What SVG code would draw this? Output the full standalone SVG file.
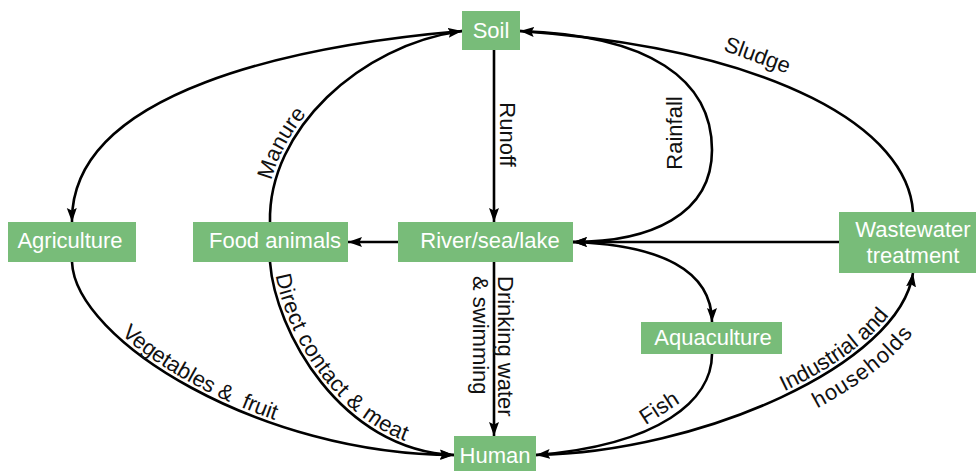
<svg xmlns="http://www.w3.org/2000/svg" xmlns:xlink="http://www.w3.org/1999/xlink" width="977" height="472" viewBox="0 0 977 472">
<style>
.box{fill:#78bc79}
.bt{font-family:"Liberation Sans",Arial,sans-serif;font-size:22px;fill:#fff;text-anchor:middle}
.lb{font-family:"Liberation Sans",Arial,sans-serif;font-size:22px;fill:#111}
.c{fill:none;stroke:#000;stroke-width:2.6;marker-end:url(#ah)}
</style>
<defs>
<marker id="ah" markerUnits="userSpaceOnUse" markerWidth="15" markerHeight="11" refX="14" refY="5" orient="auto">
<path d="M0,0 L14,5 L0,10 L2.5,5 z" fill="#000"/>
</marker>
</defs>
<rect width="977" height="472" fill="#fff"/>
<g id="connectors">
<path id="p-soil-agri" class="c" d="M 462,31 C 300,45 70,90 72,222"/>
<path id="p-manure" class="c" d="M 270,222 C 268,130 360,45 462,31"/>
<path id="p-runoff" class="c" d="M 494,50 L 494,222"/>
<path id="p-drink" class="c" d="M 494,262 L 494,436"/>
<path id="p-food" class="c" d="M 398,242 L 348,242"/>
<path id="p-ww-river" class="c" d="M 839,242 L 573,242"/>
<path id="p-rain" class="c" d="M 520,31 C 650,35 712,80 712,150 C 712,215 650,242 573,242"/>
<path id="p-sludge" class="c" d="M 913,212 C 908,130 780,50 520,31"/>
<path id="p-aqua" class="c" d="M 573,242 C 660,245 712,270 712,322"/>
<path id="p-fish" class="c" d="M 712,354 C 712,400 660,445 536,455"/>
<path id="p-ind" class="c" d="M 536,455 C 700,452 900,365 913,273"/>
<path id="p-veg" class="c" d="M 72,262 C 75,340 260,455 454,455"/>
<path id="p-meat" class="c" d="M 270,262 C 275,330 340,450 454,455"/>
</g>
<g id="labels">
<text class="lb" text-anchor="middle" transform="translate(500,134.5) rotate(90)">Runoff</text>
<text class="lb" transform="translate(498,276) rotate(90)">Drinking water</text>
<text class="lb" transform="translate(473,276) rotate(90)">&amp; swimming</text>
<text class="lb" text-anchor="middle" transform="translate(682,133) rotate(-90)">Rainfall</text>
<text class="lb" text-anchor="middle" transform="translate(755,62) rotate(20)">Sludge</text>
<text class="lb" text-anchor="middle" transform="translate(663,414) rotate(-33)">Fish</text>
<text class="lb" text-anchor="middle" dy="-4"><textPath xlink:href="#p-manure" href="#p-manure" startOffset="78">Manure</textPath></text>
<text class="lb" text-anchor="middle" dy="-4"><textPath xlink:href="#p-veg" href="#p-veg" startOffset="180">Vegetables &amp;&#160; fruit</textPath></text>
<text class="lb" text-anchor="middle" dy="-4" letter-spacing="0.6"><textPath xlink:href="#p-meat" href="#p-meat" startOffset="126">Direct contact &amp; meat</textPath></text>
<text class="lb" text-anchor="middle" dy="-4"><textPath xlink:href="#p-ind" href="#p-ind" startOffset="325">Industrial and</textPath></text>
<text class="lb" text-anchor="middle" dy="26"><textPath xlink:href="#p-ind" href="#p-ind" startOffset="336">households</textPath></text>
</g>
<g id="soil"><rect class="box" x="462" y="11" width="58" height="39"/><text class="bt" x="491" y="38">Soil</text></g>
<g id="agriculture"><rect class="box" x="8" y="222" width="128" height="40"/><text class="bt" x="70" y="248">Agriculture</text></g>
<g id="food-animals"><rect class="box" x="193" y="222" width="155" height="40"/><text class="bt" x="275" y="248">Food animals</text></g>
<g id="river"><rect class="box" x="398" y="222" width="175" height="40"/><text class="bt" x="490" y="248">River/sea/lake</text></g>
<g id="wastewater"><rect class="box" x="839" y="212" width="137" height="61"/><text class="bt" x="913" y="237">Wastewater</text><text class="bt" x="913" y="263">treatment</text></g>
<g id="aquaculture"><rect class="box" x="641" y="322" width="141" height="32"/><text class="bt" x="713" y="345">Aquaculture</text></g>
<g id="human"><rect class="box" x="454" y="436" width="82" height="35"/><text class="bt" x="495" y="463">Human</text></g>
</svg>
